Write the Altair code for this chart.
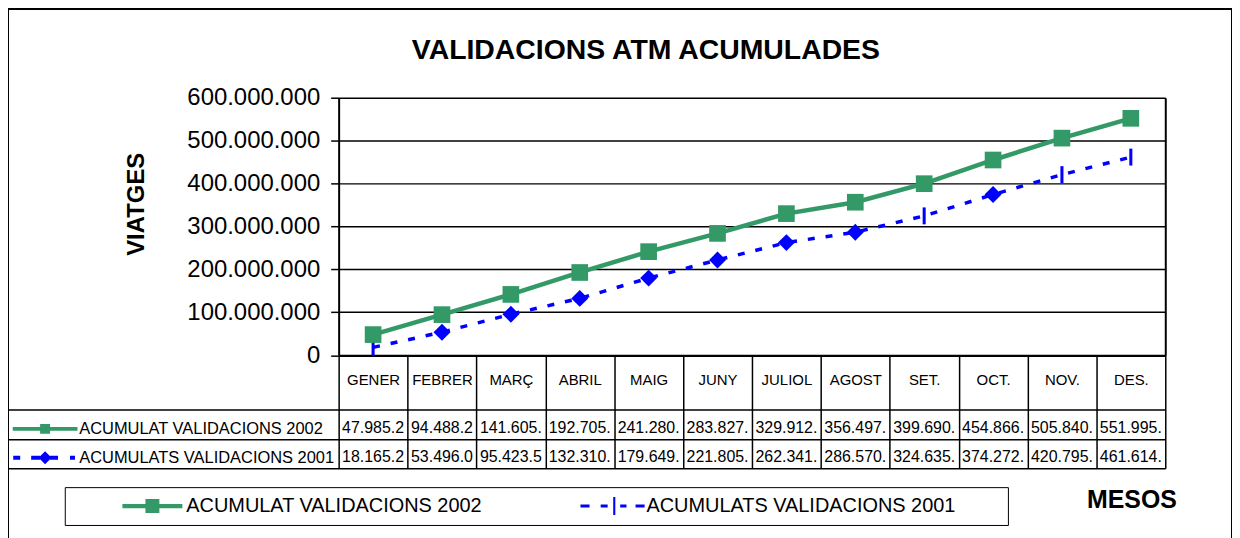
import altair as alt
import pandas as pd

# ---------------- data ----------------
mesos = ["GENER", "FEBRER", "MARÇ", "ABRIL", "MAIG", "JUNY",
         "JULIOL", "AGOST", "SET.", "OCT.", "NOV.", "DES."]
serie_2002 = "ACUMULAT VALIDACIONS 2002"
serie_2001 = "ACUMULATS VALIDACIONS 2001"
valors_2002 = [47985200, 94488200, 141605000, 192705000, 241280000, 283827000,
               329912000, 356497000, 399690000, 454866000, 505840000, 551995000]
valors_2001 = [18165200, 53496000, 95423500, 132310000, 179649000, 221805000,
               262341000, 286570000, 324635000, 374272000, 420795000, 461614000]
ticks_y = [0, 100000000, 200000000, 300000000, 400000000, 500000000, 600000000]
titol = "VALIDACIONS ATM ACUMULADES"
titol_y = "VIATGES"
titol_x = "MESOS"

# ---------------- table built from the arrays ----------------
df = pd.DataFrame({
    "mes": mesos * 2,
    "ordre": list(range(len(mesos))) * 2,
    "serie": [serie_2002] * len(mesos) + [serie_2001] * len(mesos),
    "valor": valors_2002 + valors_2001,
})
df["fila"] = df["serie"]
df["text"] = df["valor"].map(lambda v: f"{v:,}".replace(",", ".")[:8])

VERD = "#339966"
BLAU = "#0000ff"

W, H = 1229, 535
X0, X1 = 332, 1162          # plot area left/right inside the frame
Y_TOP, Y_BOT = 89, 347.5    # plot area top/bottom
T_TOP, T_BOT = 402, 461     # data table rows

x_scale = alt.Scale(type="band", domain=mesos, range=[X0, X1], paddingInner=0, paddingOuter=0)
y_scale = alt.Scale(domain=[0, 600000000], range=[Y_BOT, Y_TOP], nice=False, zero=True)

# legend symbol paths (the last lone move-to only widens the legend frame)
SYM_2002_BAIX = "M-4.3,-0.3H4.3V0.3H-4.3Z M-1,-1H1V1H-1Z"
SYM_2001_BAIX = ("M-4.6,-0.22H-3.3V0.22H-4.6Z M-1.7,-0.22H-0.7V0.22H-1.7Z "
                 "M0.1,-1.3H0.4V1.3H0.1Z M1.1,-0.22H2V0.22H1.1Z M3.3,-0.22H4.6V0.22H3.3Z M55.3,0")
SYM_2002_FILA = "M-6.5,-0.4H6.5V0.4H-6.5Z M-1,-1H1V1H-1Z"
SYM_2001_FILA = ("M-6.4,-0.4H-5V0.4H-6.4Z M-2.8,-0.4H-1V0.4H-2.8Z M0,-1.3L1.3,0L0,1.3L-1.3,0Z "
                 "M1,-0.4H2.6V0.4H1Z M5,-0.4H6V0.4H5Z")
BARRA = "M-0.18,-1H0.18V1H-0.18Z"

legend_baix = alt.Legend(
    title=None, orient="none", legendX=57, legendY=480, direction="horizontal",
    padding=9, strokeColor="black", symbolSize=196, symbolOffset=69, labelOffset=24,
    columnPadding=51, labelFontSize=20, labelColor="black", labelLimit=0,
    symbolStrokeWidth=0, symbolOpacity=1,
)

legend_files = alt.Legend(
    title=None, orient="none", legendX=2, legendY=413.25, direction="vertical",
    padding=0, symbolSize=100, symbolOffset=27, labelOffset=26, rowPadding=12,
    labelFontSize=16.5, labelColor="black", labelLimit=0, symbolStrokeWidth=0,
    symbolOpacity=1,
)

x_axis = alt.Axis(
    orient="bottom", offset=-(H - Y_BOT), title=titol_x, titleX=1128, titleY=144.5,
    titleAlign="center", titleBaseline="middle", titleAngle=0, titleFontSize=25,
    titleFontWeight="bold", titleColor="black",
    labelFontSize=15, labelColor="black", labelAngle=0, labelPadding=-96,
    tickBand="extent", tickSize=T_BOT - Y_BOT, tickColor="black", tickWidth=1.5,
    domainColor="black", domainWidth=2, grid=False, labelOverlap=False,
)

y_axis = alt.Axis(
    orient="left", offset=-X0, values=ticks_y,
    labelExpr="replace(format(datum.value, ','), regexp(',', 'g'), '.')",
    labelFontSize=24, labelColor="black", labelPadding=11,
    tickSize=8, tickColor="black", tickWidth=1.5,
    grid=True, gridColor="black", gridWidth=1.5, gridOpacity=1,
    domainColor="black", domainWidth=2,
    title=titol_y, titleFontSize=24, titleFontWeight="bold", titleColor="black",
    titleX=-203, titleY=195.5, titleAngle=270, titleAlign="center", titleBaseline="middle",
)

y_axis_dreta = alt.Axis(
    orient="right", offset=-(W - X1), labels=False, ticks=False, grid=False,
    title=None, domainColor="black", domainWidth=2,
)

base = alt.Chart(df)
# x is shared by every layer: only one layer states the axis, the rest leave it implicit
X_MES = alt.X("mes:N", scale=x_scale)
Y_NOAX = alt.Y("valor:Q", scale=y_scale, axis=None)

line2002 = base.transform_filter(alt.datum.serie == serie_2002).mark_line(
    strokeWidth=4.5, color=VERD).encode(
    x=alt.X("mes:N", scale=x_scale, axis=x_axis),
    y=alt.Y("valor:Q", scale=y_scale, axis=y_axis),
    order=alt.Order("ordre:Q"),
)

line2001 = base.transform_filter(alt.datum.serie == serie_2001).mark_line(
    strokeWidth=3.5, strokeDash=[7, 11], color=BLAU).encode(
    x=X_MES, y=Y_NOAX, order=alt.Order("ordre:Q"),
)

# tiny hidden points carrying the bottom legend (series -> colour + symbol)
llegenda = base.mark_point(filled=True, size=0.04, opacity=1, strokeWidth=0).encode(
    x=X_MES, y=Y_NOAX,
    color=alt.Color("serie:N", scale=alt.Scale(domain=[serie_2002, serie_2001], range=[VERD, BLAU]),
                    legend=legend_baix),
    shape=alt.Shape("serie:N", scale=alt.Scale(domain=[serie_2002, serie_2001],
                                               range=[SYM_2002_BAIX, SYM_2001_BAIX]),
                    legend=legend_baix),
)

pts2001 = base.transform_filter(alt.datum.serie == serie_2001).mark_point(
    filled=True, size=289, color=BLAU, opacity=1).encode(
    x=X_MES, y=Y_NOAX,
    shape=alt.condition(
        "indexof(['GENER','SET.','NOV.','DES.'], datum.mes) >= 0",
        alt.value(BARRA), alt.value("diamond")),
)

pts2002 = base.transform_filter(alt.datum.serie == serie_2002).mark_point(
    filled=True, size=280, shape="square", color=VERD, opacity=1).encode(
    x=X_MES,
    y=alt.Y("valor:Q", scale=y_scale, axis=y_axis_dreta),
)

grafic = alt.layer(line2002, line2001, llegenda, pts2001, pts2002).resolve_axis(y="independent")

taula_axis = alt.Axis(
    orient="left", offset=-X0, labels=False, tickBand="extent", tickSize=X0,
    tickColor="black", tickWidth=1.5, grid=True, gridColor="black", gridWidth=1.5,
    gridOpacity=1, domain=False, title=None,
)
fila_scale = alt.Scale(domain=[serie_2002, serie_2001], range=[T_TOP, T_BOT],
                       paddingInner=0, paddingOuter=0)

# tiny hidden points carrying the row-header legend of the data table
fila_pts = base.mark_point(filled=True, size=0.04, opacity=1, strokeWidth=0).encode(
    x=X_MES,
    y=alt.Y("fila:N", scale=fila_scale),
    color=alt.Color("fila:N", scale=alt.Scale(range=[VERD, BLAU]), legend=legend_files),
    shape=alt.Shape("fila:N", scale=alt.Scale(range=[SYM_2002_FILA, SYM_2001_FILA]),
                    legend=legend_files),
)

taula_text = base.mark_text(fontSize=16, color="black", dy=3.5).encode(
    x=X_MES,
    y=alt.Y("fila:N", scale=fila_scale, axis=taula_axis),
    text="text:N",
)

taula = alt.layer(fila_pts, taula_text)

chart = alt.layer(grafic, taula).resolve_scale(
    y="independent", color="independent", shape="independent"
).properties(
    width=W, height=H,
    autosize=alt.AutoSizeParams(type="none"),
    padding=0,
    title=alt.TitleParams(text=titol, fontSize=28.5, fontWeight="bold", anchor="middle",
                          offset=-70, dx=26, baseline="middle", color="black"),
).configure(font="Liberation Sans").configure_view(stroke="black", strokeWidth=2)

chart.save("out.html", embed_options={"renderer": "svg", "actions": False})
